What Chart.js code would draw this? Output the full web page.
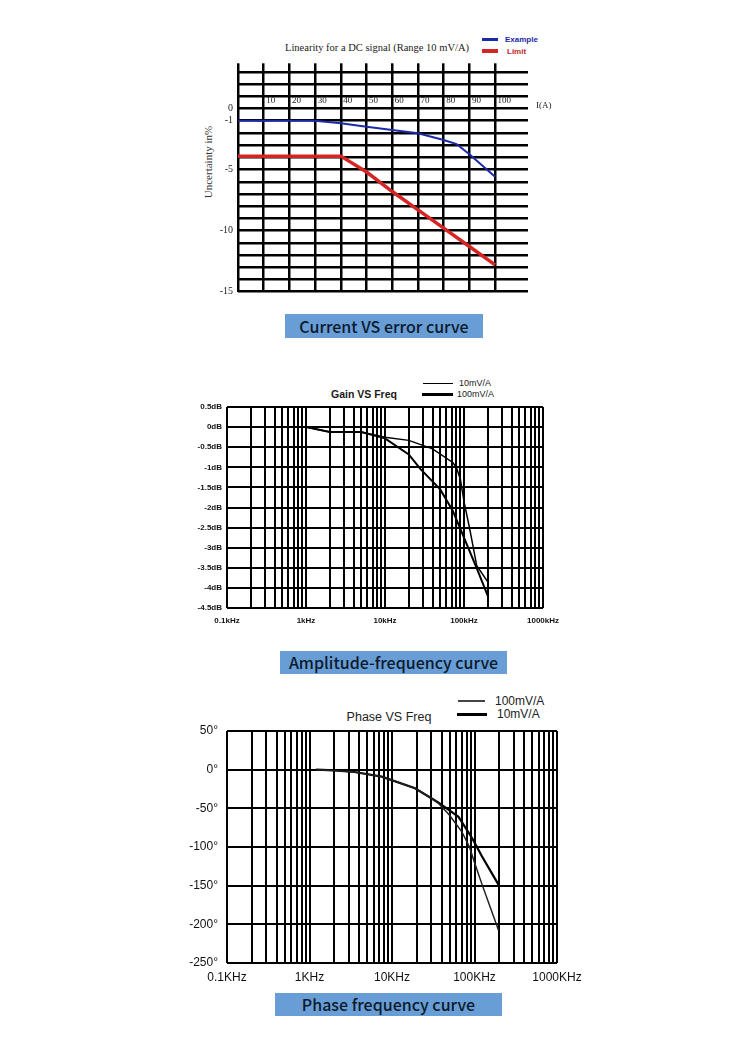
<!DOCTYPE html>
<html>
<head>
<meta charset="utf-8">
<script src="https://cdn.jsdelivr.net/npm/chart.js@4.4.0/dist/chart.umd.min.js"></script>
<style>
  html, body { margin: 0; padding: 0; background: #fff; }
  #page { position: relative; width: 750px; height: 1047px; overflow: hidden; background: #fff; }
  canvas { position: absolute; }
  .t { position: absolute; white-space: nowrap; line-height: 1; color: #1a1a1a; }
  .c { transform: translate(-50%, -50%); }
  .l { transform: translate(0, -50%); }
  .sw { position: absolute; }
  .banner { position: absolute; background: #699dd5; color: #0b1a2c; font: 500 16px 'Noto Sans CJK SC', 'Noto Sans', sans-serif; text-align: center; }
</style>
</head>
<body>
<div id="page">
  <!-- chart 1 : current vs error -->
  <div class="t c" style="left:377px;top:47px;font:10.5px 'Liberation Serif',serif;color:#222">Linearity for a DC signal (Range 10 mV/A)</div>
  <div class="sw" style="left:482px;top:38px;width:16px;height:2.5px;background:#1b2aa8"></div>
  <div class="t l" style="left:505px;top:39px;font:bold 8px 'Liberation Sans',sans-serif;color:#1b2aa8">Example</div>
  <div class="sw" style="left:482px;top:49px;width:16px;height:3.5px;background:#d42424"></div>
  <div class="t l" style="left:507px;top:51px;font:bold 8px 'Liberation Sans',sans-serif;color:#c0282a">Limit</div>
  <div class="t c" style="left:208px;top:162px;font:11px 'Liberation Serif',serif;color:#333;transform:translate(-50%,-50%) rotate(-90deg)">Uncertainty in%</div>
  <canvas id="c1" width="380" height="280" style="left:180px;top:25px"></canvas>
  <div class="banner" style="left:285px;top:314px;width:198px;height:24px;line-height:24px">Current VS error curve</div>

  <!-- chart 2 : gain vs freq -->
  <div class="t c" style="left:364px;top:394px;font:bold 10.5px 'Liberation Sans',sans-serif">Gain VS Freq</div>
  <div class="sw" style="left:423px;top:382.5px;width:30px;height:1px;background:#000"></div>
  <div class="t l" style="left:459px;top:382.5px;font:9px 'Liberation Sans',sans-serif">10mV/A</div>
  <div class="sw" style="left:422px;top:393px;width:31px;height:2.5px;background:#000"></div>
  <div class="t l" style="left:457px;top:394px;font:9px 'Liberation Sans',sans-serif">100mV/A</div>
  <canvas id="c2" width="400" height="235" style="left:170px;top:400px"></canvas>
  <div class="banner" style="left:280px;top:651px;width:227px;height:23px;line-height:23px">Amplitude-frequency curve</div>

  <!-- chart 3 : phase vs freq -->
  <div class="t c" style="left:389px;top:717px;font:12.5px 'Liberation Sans',sans-serif;color:#222">Phase VS Freq</div>
  <div class="sw" style="left:458px;top:700px;width:27px;height:1.5px;background:#444"></div>
  <div class="t l" style="left:495px;top:701px;font:12px 'Liberation Sans',sans-serif;color:#222">100mV/A</div>
  <div class="sw" style="left:457px;top:713px;width:30px;height:2.5px;background:#000"></div>
  <div class="t l" style="left:497px;top:714px;font:12px 'Liberation Sans',sans-serif;color:#222">10mV/A</div>
  <canvas id="c3" width="420" height="265" style="left:170px;top:725px"></canvas>
  <div class="banner" style="left:275px;top:993px;width:227px;height:23px;line-height:23px">Phase frequency curve</div>
</div>

<script>
// ---- chart 1 data : current (A) vs uncertainty (%)
const exampleCurrent = [0, 30, 40, 50, 60, 70, 80, 85, 90, 100]
const exampleError = [-1, -1, -1.21, -1.49, -1.76, -2.03, -2.58, -2.91, -3.75, -5.59]
const limitCurrent = [0, 40, 50, 60, 70, 80, 90, 100]
const limitError = [-3.9, -3.9, -5.2, -6.8, -8.3, -9.8, -11.3, -12.8]
const currentGrid = [0, 10, 20, 30, 40, 50, 60, 70, 80, 90, 100]
const currentLabels = [10, 20, 30, 40, 50, 60, 70, 80, 90, 100]
const errorGrid = [3, 2, 1, 0, -1, -2, -3, -4, -5, -6, -7, -8, -9, -10, -11, -12, -13, -14, -15]
const errorLabels = [0, -1, -5, -10, -15]

// ---- chart 2 data : gain (dB) vs frequency (kHz)
const gain10Freq = [1, 2, 5, 10, 20, 40, 72, 80, 90, 100, 120, 145, 200]
const gain10Db = [0, -0.12, -0.12, -0.25, -0.33, -0.54, -0.88, -1.0, -1.3, -1.85, -2.6, -3.45, -3.85]
const gain100Freq = [1, 2, 5, 10, 20, 28, 50, 72, 100, 150, 200]
const gain100Db = [0, -0.12, -0.12, -0.28, -0.68, -1.04, -1.55, -2.08, -2.75, -3.58, -4.2]
const gainGrid = [0.5, 0, -0.5, -1, -1.5, -2, -2.5, -3, -3.5, -4, -4.5]
const gainLabels = ['0.5dB', '0dB', '-0.5dB', '-1dB', '-1.5dB', '-2dB', '-2.5dB', '-3dB', '-3.5dB', '-4dB', '-4.5dB']
const gainFreqLabels = ['0.1kHz', '1kHz', '10kHz', '100kHz', '1000kHz']

// ---- chart 3 data : phase (deg) vs frequency (kHz)
const phase10Freq = [1.2, 2, 3.5, 7.5, 19, 30, 37, 64, 93, 123, 196]
const phase10Deg = [0, -1, -3, -9, -24, -37, -43, -61, -88, -112, -149]
const phase100Freq = [1.2, 2, 3.5, 7.5, 19, 30, 37, 49, 70, 87, 100, 123, 196]
const phase100Deg = [0, -1, -3, -9, -24, -37, -44, -58, -80, -100, -120, -148, -208]
const phaseGrid = [50, 0, -50, -100, -150, -200, -250]
const phaseLabels = ['50°', '0°', '-50°', '-100°', '-150°', '-200°', '-250°']
const phaseFreqLabels = ['0.1KHz', '1KHz', '10KHz', '100KHz', '1000KHz']

// log grid: decades and the 1..9 steps inside each
const freqDecades = [0.1, 1, 10, 100, 1000]
const decadeSteps = [1, 2, 3, 4, 5, 6, 7, 8, 9]

Chart.defaults.color = '#111'
Chart.defaults.animation = false

function points(xs, ys) {
    return xs.map((x, i) => ({x: x, y: ys[i]}))
}

function logGrid() {
    let g = []
    freqDecades.forEach((d, i) => {
        if (i == freqDecades.length - 1) { g.push(d); return }
        decadeSteps.forEach(s => g.push(+(d * s).toPrecision(3)))
    })
    return g
}

function setTicks(values) {
    return function (scale) {
        scale.ticks = values.map(v => ({value: v}))
    }
}

function fixWidth(w) {
    return function (scale) {
        scale.width = w
        scale.paddingTop = 0
        scale.paddingBottom = 0
    }
}

function fixHeight(h) {
    return function (scale) {
        scale.height = h
        scale.paddingLeft = 0
        scale.paddingRight = 0
    }
}

// labels of chart 1 sit inside the grid, right of each line, on the 0 row
const insideLabels = {
    id: 'insideLabels',
    afterDatasetsDraw(chart) {
        const ctx = chart.ctx
        const xs = chart.scales.x
        const ys = chart.scales.y
        const y0 = ys.getPixelForValue(0)
        ctx.save()
        ctx.fillStyle = '#222'
        ctx.font = "9px 'Liberation Serif', serif"
        ctx.textBaseline = 'bottom'
        ctx.textAlign = 'left'
        currentLabels.forEach(v => {
            ctx.fillText(String(v), xs.getPixelForValue(v) + 2.5, y0 - 3)
        })
        ctx.textBaseline = 'middle'
        ctx.fillText('I(A)', chart.chartArea.right + 8, y0 - 3)
        ctx.restore()
    }
}

const grid1 = {color: '#000', lineWidth: 2.5, drawTicks: false}

new Chart(document.getElementById('c1'), {
    type: 'line',
    data: {
        datasets: [
            {label: 'Example', data: points(exampleCurrent, exampleError), borderColor: '#1b2aa8', borderWidth: 2},
            {label: 'Limit', data: points(limitCurrent, limitError), borderColor: '#d42424', borderWidth: 3.5}
        ]
    },
    options: {
        responsive: false,
        layout: {padding: {top: 38.3, right: 32, bottom: 13.3, left: 0}},
        elements: {point: {radius: 0}, line: {tension: 0}},
        plugins: {legend: {display: false}, tooltip: {enabled: false}},
        scales: {
            x: {
                type: 'linear', min: 0, max: 112.8,
                afterBuildTicks: setTicks(currentGrid),
                afterFit: fixHeight(0),
                ticks: {display: false, autoSkip: false},
                grid: grid1,
                border: {display: false}
            },
            y: {
                type: 'linear', min: -15, max: 3.7,
                afterBuildTicks: setTicks(errorGrid),
                afterFit: fixWidth(58),
                ticks: {
                    autoSkip: false, padding: 5,
                    font: {family: "'Liberation Serif', serif", size: 10},
                    color: '#222',
                    callback: v => errorLabels.includes(v) ? String(v) : ''
                },
                grid: grid1,
                border: {display: false}
            }
        }
    },
    plugins: [insideLabels]
})

function freqChart(id, datasets, yMin, yMax, yGrid, yLabels, xLabels, opts) {
    const g = {color: '#000', lineWidth: 2, drawTicks: false}
    return new Chart(document.getElementById(id), {
        type: 'line',
        data: {datasets: datasets},
        options: {
            responsive: false,
            layout: {padding: {top: opts.top, right: opts.right, bottom: 0, left: 0}},
            elements: {point: {radius: 0}, line: {tension: 0}},
            plugins: {legend: {display: false}, tooltip: {enabled: false}},
            scales: {
                x: {
                    type: 'logarithmic', min: 0.1, max: 1000,
                    afterBuildTicks: setTicks(logGrid()),
                    afterFit: fixHeight(opts.xh),
                    ticks: {
                        autoSkip: false, maxRotation: 0, padding: opts.xpad,
                        font: opts.font,
                        callback: v => {
                            const i = freqDecades.indexOf(v)
                            return i >= 0 ? xLabels[i] : ''
                        }
                    },
                    grid: g,
                    border: {display: false}
                },
                y: {
                    type: 'linear', min: yMin, max: yMax,
                    afterBuildTicks: setTicks(yGrid),
                    afterFit: fixWidth(57),
                    ticks: {
                        autoSkip: false, padding: opts.ypad,
                        font: opts.font,
                        callback: v => {
                            const i = yGrid.indexOf(v)
                            return i >= 0 ? yLabels[i] : ''
                        }
                    },
                    grid: g,
                    border: {display: false}
                }
            }
        }
    })
}

freqChart('c2', [
    {label: '10mV/A', data: points(gain10Freq, gain10Db), borderColor: '#000', borderWidth: 1.5},
    {label: '100mV/A', data: points(gain100Freq, gain100Db), borderColor: '#000', borderWidth: 2}
], -4.5, 0.5, gainGrid, gainLabels, gainFreqLabels,
    {top: 7, right: 27, xh: 27, xpad: 8, ypad: 5, font: {family: "'Liberation Sans', sans-serif", size: 8, weight: 'bold'}})

freqChart('c3', [
    {label: '100mV/A', data: points(phase100Freq, phase100Deg), borderColor: '#222', borderWidth: 1.5},
    {label: '10mV/A', data: points(phase10Freq, phase10Deg), borderColor: '#000', borderWidth: 2.2}
], -250, 50, phaseGrid, phaseLabels, phaseFreqLabels,
    {top: 6, right: 33, xh: 27, xpad: 7, ypad: 9, font: {family: "'Liberation Sans', sans-serif", size: 12}})
</script>
</body>
</html>
